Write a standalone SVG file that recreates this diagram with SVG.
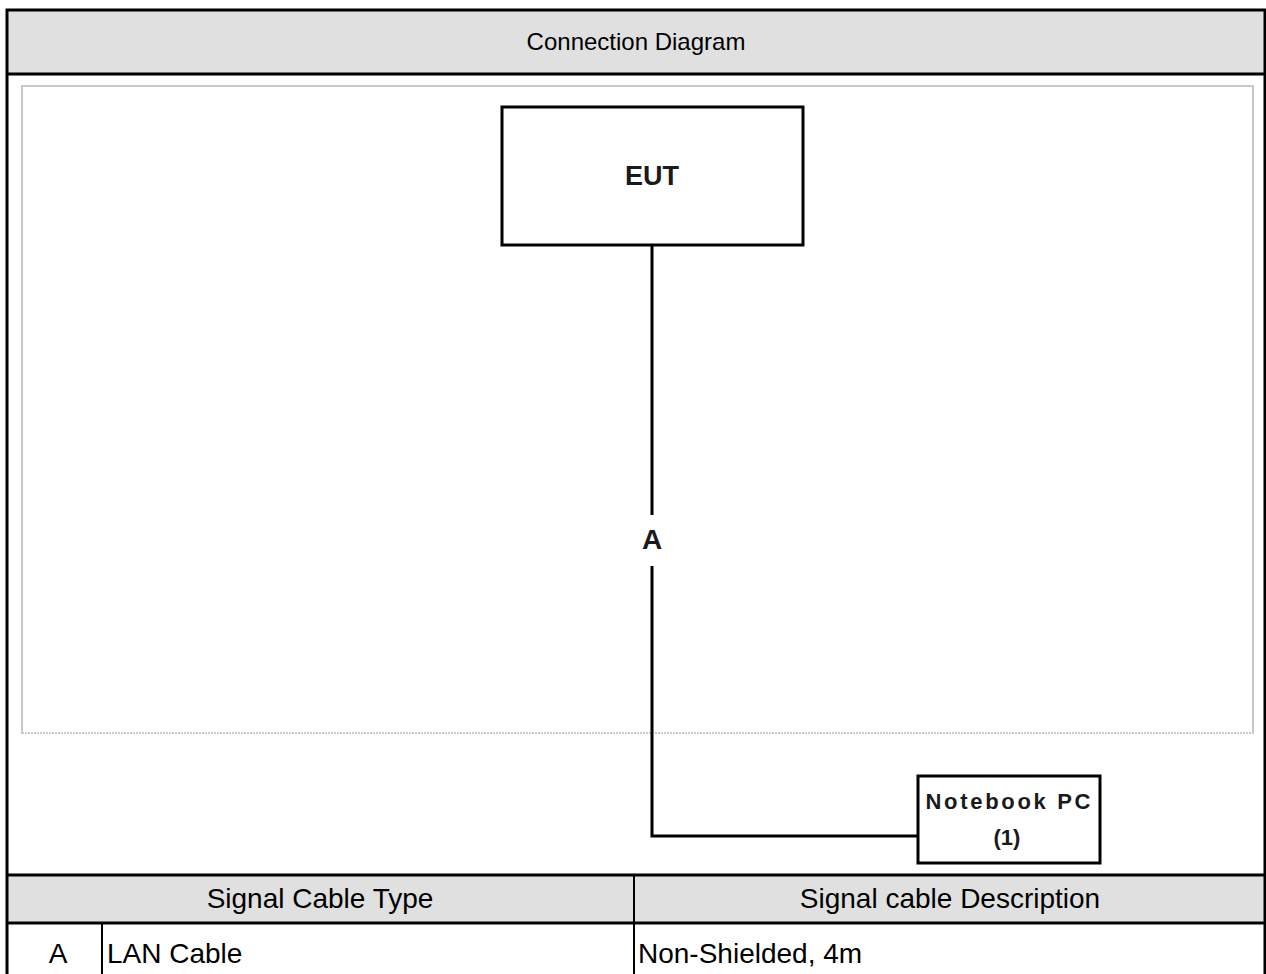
<svg xmlns="http://www.w3.org/2000/svg" width="1266" height="974" viewBox="0 0 1266 974">
<style>
.frame{fill:none;stroke:#000;stroke-width:3}
.hdr{fill:#e0e0e0}
.t{font-family:"Liberation Sans",Arial,sans-serif;fill:#000}
.box{fill:#fff;stroke:#000;stroke-width:3}
.wire{fill:none;stroke:#000;stroke-width:3}
.lbl{font-family:"Liberation Sans",Arial,sans-serif;font-weight:bold;fill:#1a1a1a}
</style>
<rect x="0" y="0" width="1266" height="974" fill="#fff"/>
<g id="title">
<rect class="hdr" x="7" y="10" width="1258" height="64"/>
<text class="t" x="636" y="50" font-size="24" text-anchor="middle">Connection Diagram</text>
</g>
<g id="diagram-area">
<rect x="22" y="86" width="1231" height="647" fill="#fff" stroke="#c8c8c8" stroke-width="2"/>
<line x1="22" y1="733" x2="1253" y2="733" stroke="#fff" stroke-width="2"/>
<line x1="22" y1="733" x2="1253" y2="733" stroke="#999" stroke-width="1" stroke-dasharray="2,1"/>
</g>
<g id="connectors">
<line class="wire" x1="652" y1="245" x2="652" y2="515"/>
<polyline class="wire" points="652,566 652,836 918,836"/>
<text class="lbl" x="652" y="549" font-size="28" text-anchor="middle">A</text>
</g>
<g id="eut">
<rect class="box" x="502" y="107" width="301" height="138"/>
<text class="lbl" x="652" y="185" font-size="27" text-anchor="middle">EUT</text>
</g>
<g id="notebook">
<rect class="box" x="918" y="776" width="182" height="87"/>
<text class="lbl" x="1008" y="809" font-size="22" text-anchor="middle" textLength="165" lengthAdjust="spacing">Notebook PC</text>
<text class="lbl" x="1007" y="845" font-size="22" text-anchor="middle">(1)</text>
</g>
<g id="table">
<rect class="hdr" x="7" y="875" width="1258" height="48"/>
<line x1="7" y1="875" x2="1265" y2="875" stroke="#000" stroke-width="3"/>
<line x1="7" y1="923" x2="1265" y2="923" stroke="#000" stroke-width="3"/>
<line x1="634" y1="875" x2="634" y2="974" stroke="#000" stroke-width="2"/>
<line x1="102" y1="923" x2="102" y2="974" stroke="#000" stroke-width="2"/>
<text class="t" x="320" y="908" font-size="28" text-anchor="middle">Signal Cable Type</text>
<text class="t" x="950" y="908" font-size="28" text-anchor="middle">Signal cable Description</text>
<text class="t" x="58" y="963" font-size="28" text-anchor="middle">A</text>
<text class="t" x="107" y="963" font-size="28">LAN Cable</text>
<text class="t" x="638" y="963" font-size="28">Non-Shielded, 4m</text>
</g>
<g id="outer">
<line x1="7" y1="74" x2="1265" y2="74" stroke="#000" stroke-width="3"/>
<polyline class="frame" points="7,974 7,10 1265,10 1265,974"/>
</g>
</svg>
